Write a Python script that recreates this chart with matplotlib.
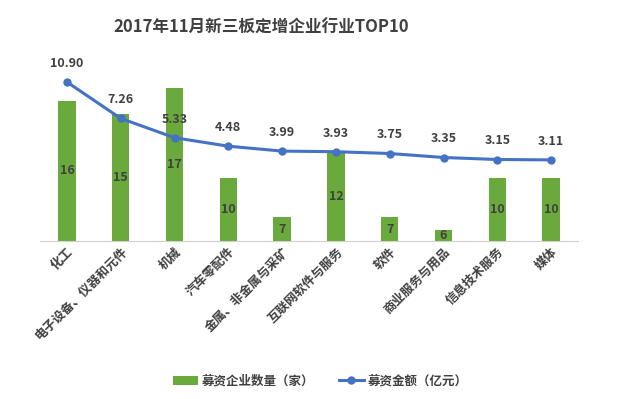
import matplotlib.pyplot as plt
import numpy as np

plt.rcParams['font.family'] = ['Noto Sans CJK SC', 'DejaVu Sans']

categories = ['化工', '电子设备、仪器和元件', '机械', '汽车零配件', '金属、非金属与采矿',
              '互联网软件与服务', '软件', '商业服务与用品', '信息技术服务', '媒体']
counts = [16, 15, 17, 10, 7, 12, 7, 6, 10, 10]
amounts = [10.90, 7.26, 5.33, 4.48, 3.99, 3.93, 3.75, 3.35, 3.15, 3.11]

txt = '#404040'
fig = plt.figure(figsize=(6.4, 3.99), dpi=100)
ax = fig.add_axes([40 / 640, 1 - 241 / 399, 538 / 640, 180 / 399])
x = np.arange(len(categories))

ymin = 5.15
ax.bar(x, np.array(counts) - ymin, bottom=ymin, width=0.32, color='#6aaa3c',
       label='募资企业数量（家）', zorder=2)
for xi, c in zip(x, counts):
    ax.text(xi, (c + ymin) / 2, str(c), ha='center', va='center', fontsize=9,
            fontweight='bold', color=txt, zorder=3)
ax.set_ylim(ymin, 19.1)
ax.set_xlim(-0.5, len(categories) - 0.5)
ax.set_yticks([])
for s in ['top', 'right', 'left']:
    ax.spines[s].set_visible(False)
ax.spines['bottom'].set_color('#d0d0d0')
ax.tick_params(axis='x', length=0, pad=3)
ax.set_xticks(x)
ax.set_xticklabels(categories, rotation=45, ha='right', rotation_mode='anchor',
                   fontsize=9, fontweight='bold', color=txt)

ax2 = ax.twinx()
ax2.plot(x, amounts, color='#4472c4', lw=2.2, marker='o', ms=5,
         label='募资金额（亿元）', zorder=4)
for xi, a in zip(x, amounts):
    ax2.text(xi, a + 1.2, f'{a:.2f}', ha='center', va='bottom', fontsize=9,
             fontweight='bold', color=txt)
ax2.set_ylim(-5, 13)
ax2.set_yticks([])
for s in ['top', 'right', 'left', 'bottom']:
    ax2.spines[s].set_visible(False)

fig.text(261 / 640, 1 - 28 / 399, '2017年11月新三板定增企业行业TOP10', ha='center', va='center',
         fontsize=12, fontweight='bold', color=txt)

h1, l1 = ax.get_legend_handles_labels()
h2, l2 = ax2.get_legend_handles_labels()
fig.legend(h1 + h2, l1 + l2, loc='center', bbox_to_anchor=(0.5, 1 - 381 / 399),
           ncol=2, frameon=False, columnspacing=2.0, handlelength=2.0,
           handletextpad=0.3, prop={'weight': 'bold', 'size': 9})
for t in fig.legends[0].get_texts():
    t.set_color(txt)

fig.savefig('out.png', dpi=100, facecolor='white')
